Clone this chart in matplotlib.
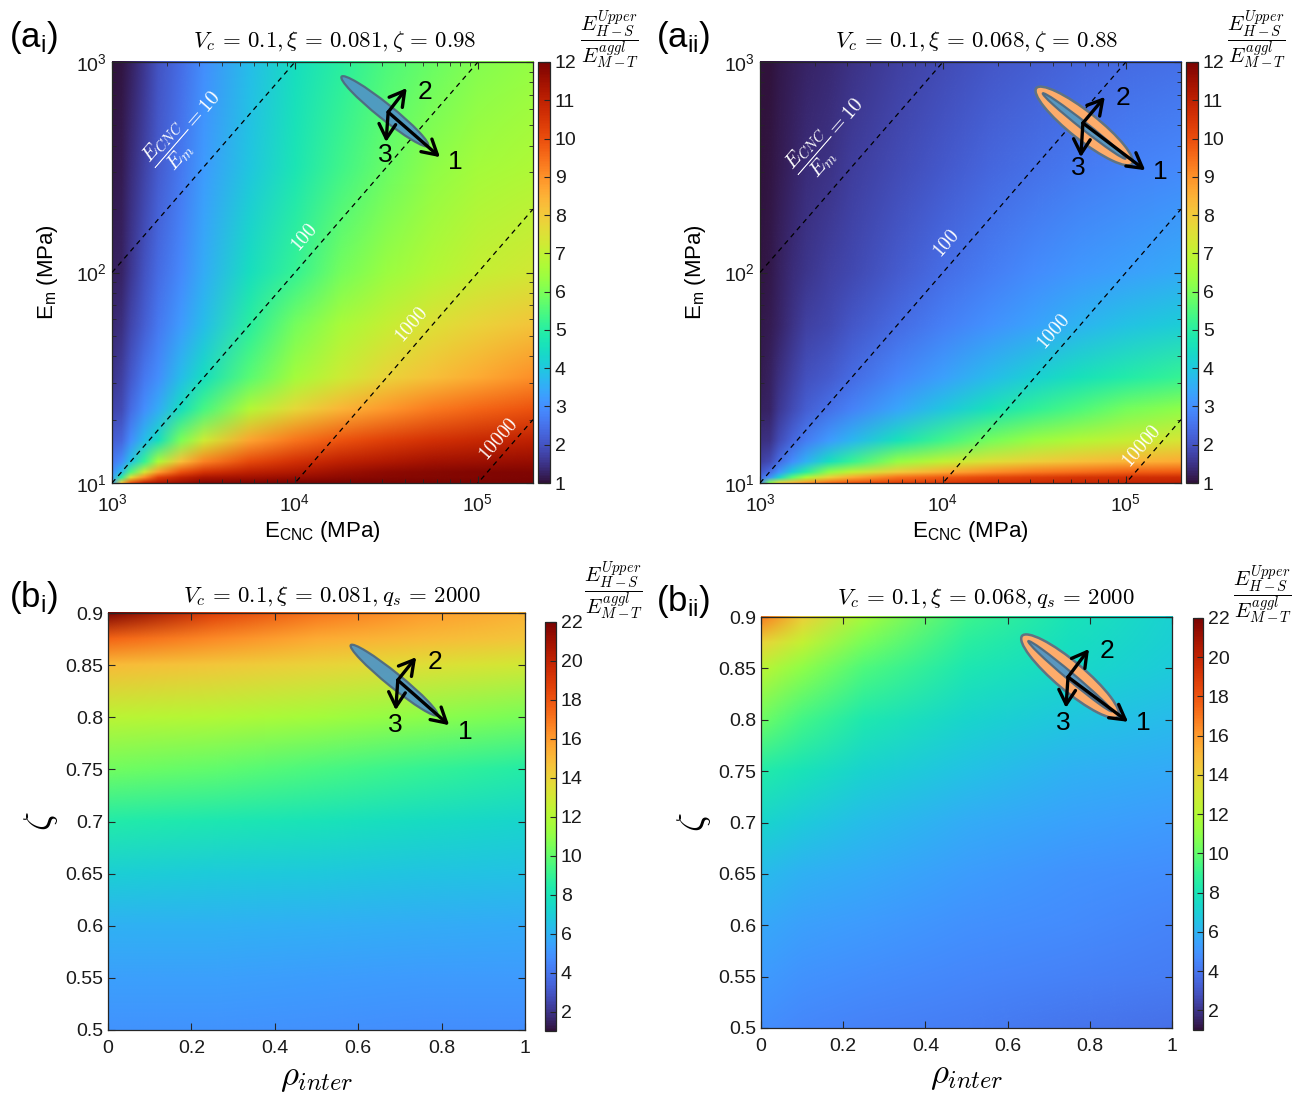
import numpy as np
import matplotlib
matplotlib.use('Agg')
import matplotlib.pyplot as plt
from matplotlib.patches import Ellipse
from matplotlib.image import NonUniformImage
from matplotlib.colors import Normalize
from matplotlib.ticker import FixedLocator

plt.rcParams['font.family'] = ['Liberation Sans', 'DejaVu Sans']
plt.rcParams['mathtext.fontset'] = 'custom'
plt.rcParams['mathtext.rm'] = 'Liberation Sans'
plt.rcParams['mathtext.it'] = 'Liberation Sans:italic'
plt.rcParams['mathtext.bf'] = 'Liberation Sans:bold'

W, H = 1293, 1095

# ---------- data ----------
# (a) panels: log10(E_CNC) columns, log10(E_m) rows (bottom -> top)
ecnc_log = [3.0, 3.05, 3.1, 3.175, 3.25, 3.375, 3.5, 3.75, 4.0, 4.25, 4.5, 4.75, 5.0, 5.301]
em_log = [1.0, 1.025, 1.05, 1.1, 1.2, 1.35, 1.5, 1.75, 2.0, 2.5, 3.0]

ratio_ai = [
    [3.6, 8.0, 9.8, 10.8, 11.2, 11.5, 11.8, 11.9, 11.95, 12, 12, 12, 12, 12],
    [3.3, 5.0, 7.5, 9.0, 10.2, 10.9, 11.3, 11.4, 11.55, 11.7, 11.8, 11.85, 11.9, 11.95],
    [3.0, 3.8, 5.5, 7.3, 8.8, 9.9, 10.5, 11.0, 11.2, 11.5, 11.7, 11.8, 11.9, 11.9],
    [2.6, 3.0, 3.9, 5.2, 6.6, 8.2, 9.2, 10.1, 10.6, 11.0, 11.2, 11.4, 11.5, 11.6],
    [2.2, 2.3, 3.0, 3.8, 4.5, 6.0, 7.2, 8.7, 9.4, 9.9, 10.3, 10.6, 10.8, 11.0],
    [1.8, 1.9, 2.4, 3.0, 3.5, 4.5, 5.4, 6.8, 7.7, 8.4, 8.9, 9.3, 9.6, 9.9],
    [1.55, 1.7, 2.1, 2.6, 3.0, 3.8, 4.5, 5.6, 6.5, 7.2, 7.8, 8.2, 8.6, 9.0],
    [1.35, 1.45, 1.8, 2.2, 2.6, 3.2, 3.8, 5.0, 5.9, 6.6, 7.1, 7.5, 7.8, 8.1],
    [1.25, 1.3, 1.6, 2.0, 2.4, 2.9, 3.5, 4.5, 5.2, 5.9, 6.4, 6.8, 7.1, 7.3],
    [1.1, 1.15, 1.4, 1.75, 2.15, 2.6, 3.2, 4.0, 4.7, 5.3, 5.8, 6.2, 6.5, 6.7],
    [1.0, 1.05, 1.25, 1.6, 2.0, 2.45, 3.0, 3.8, 4.5, 5.0, 5.5, 5.8, 6.1, 6.3],
]
ratio_aii = [
    [2.8, 6.0, 7.5, 8.3, 8.8, 9.4, 9.8, 10.2, 10.4, 10.6, 10.7, 10.8, 10.9, 11.0],
    [2.4, 3.0, 4.2, 5.6, 6.6, 7.8, 8.6, 9.4, 9.8, 10.1, 10.3, 10.5, 10.6, 10.7],
    [2.1, 2.4, 3.1, 4.1, 5.0, 6.2, 7.0, 8.0, 8.6, 9.0, 9.3, 9.5, 9.7, 9.8],
    [1.7, 1.9, 2.4, 3.0, 3.6, 4.5, 5.2, 6.3, 7.0, 7.5, 7.9, 8.2, 8.4, 8.6],
    [1.45, 1.5, 1.9, 2.3, 2.7, 3.2, 3.7, 4.6, 5.3, 5.9, 6.4, 6.8, 7.1, 7.4],
    [1.25, 1.3, 1.6, 1.9, 2.2, 2.5, 2.8, 3.4, 4.0, 4.6, 5.1, 5.5, 5.9, 6.2],
    [1.15, 1.25, 1.45, 1.7, 1.95, 2.15, 2.4, 2.85, 3.3, 3.75, 4.2, 4.6, 4.9, 5.2],
    [1.1, 1.15, 1.3, 1.5, 1.7, 1.85, 2.05, 2.4, 2.75, 3.05, 3.35, 3.65, 3.9, 4.1],
    [1.05, 1.1, 1.25, 1.4, 1.55, 1.7, 1.85, 2.15, 2.45, 2.7, 2.95, 3.15, 3.3, 3.45],
    [1.0, 1.05, 1.15, 1.3, 1.4, 1.5, 1.65, 1.9, 2.1, 2.3, 2.5, 2.65, 2.8, 2.9],
    [1.0, 1.03, 1.1, 1.2, 1.28, 1.38, 1.5, 1.7, 1.9, 2.05, 2.2, 2.3, 2.4, 2.5],
]

# (b) panels: rho_inter columns, zeta rows (bottom -> top)
zeta = [0.5, 0.55, 0.6, 0.65, 0.7, 0.75, 0.8, 0.85, 0.875, 0.9]
rho_bi = [0.0, 0.25, 0.5, 0.75, 1.0]
ratio_bi = [
    [5.0, 4.95, 4.9, 4.85, 4.8],
    [5.4, 5.35, 5.3, 5.25, 5.2],
    [6.0, 5.95, 5.85, 5.8, 5.7],
    [7.0, 6.9, 6.8, 6.65, 6.5],
    [8.4, 8.2, 7.9, 7.6, 7.3],
    [10.3, 10.0, 9.5, 9.0, 8.5],
    [12.3, 12.0, 11.5, 11.0, 10.5],
    [15.0, 14.5, 14.0, 13.5, 13.0],
    [17.5, 16.5, 15.5, 15.0, 14.5],
    [22.0, 18.8, 17.0, 16.0, 15.2],
]
rho_bii = [0.0, 0.1, 0.25, 0.5, 0.75, 1.0]
ratio_bii = [
    [4.8, 4.6, 4.4, 4.2, 4.0, 3.8],
    [5.2, 5.0, 4.8, 4.6, 4.4, 4.2],
    [5.6, 5.4, 5.2, 4.9, 4.7, 4.5],
    [6.3, 6.0, 5.7, 5.3, 5.0, 4.8],
    [7.3, 6.9, 6.4, 5.8, 5.5, 5.2],
    [8.4, 7.9, 7.2, 6.5, 6.0, 5.7],
    [10.2, 9.3, 8.3, 7.3, 6.7, 6.3],
    [12.3, 11.0, 9.6, 8.2, 7.4, 6.9],
    [14.0, 12.5, 10.5, 8.7, 7.7, 7.0],
    [16.8, 14.2, 11.5, 9.2, 7.9, 7.1],
]

# E_CNC / E_m guide lines and their labels (positions in log10 units)
guide_ratios = [10, 100, 1000, 10000]
guide_labels = [r'$\dfrac{E_{CNC}}{E_m} = 10$', '$100$', '$1000$', '$10000$']
guide_pos_ai = [(3.408, 2.669), (4.051, 2.165), (4.638, 1.751), (5.116, 1.204)]
guide_pos_aii = [(3.381, 2.637), (4.02, 2.134), (4.607, 1.714), (5.088, 1.172)]

titles = [r'$V_c\,=\,0.1, \xi\,=\,0.081, \zeta\,=\,0.98$',
          r'$V_c\,=\,0.1, \xi\,=\,0.068, \zeta\,=\,0.88$',
          r'$V_c\,=\,0.1, \xi\,=\,0.081, q_s\,=\,2000$',
          r'$V_c\,=\,0.1, \xi\,=\,0.068, q_s\,=\,2000$']
cbar_label = r'$\dfrac{E^{Upper}_{H-S}}{E^{aggl}_{M-T}}$'

EDGE = '#262626'


def rect(l, t, r, b):
    return [l / W, 1 - b / H, (r - l) / W, (b - t) / H]


def style_axes(ax, xpad):
    for s in ax.spines.values():
        s.set_color(EDGE)
        s.set_linewidth(0.9)
    ax.tick_params(which='both', direction='in', top=True, right=True,
                   colors=EDGE, labelcolor='#1a1a1a', labelsize=14)
    ax.tick_params(which='major', length=5)
    ax.tick_params(which='minor', length=3)
    ax.tick_params(axis='x', which='major', pad=xpad)


def style_cbar(cb, ticks):
    cb.set_ticks(ticks)
    cb.outline.set_edgecolor(EDGE)
    cb.outline.set_linewidth(0.9)
    cb.ax.tick_params(direction='in', length=4, colors=EDGE,
                      labelcolor='#1a1a1a', labelsize=14)


def heat(ax, x, y, z, vmax, extent):
    im = NonUniformImage(ax, interpolation='bilinear', extent=extent,
                         cmap='turbo', norm=Normalize(1, vmax))
    im.set_data(np.array(x), np.array(y), np.array(z))
    ax.add_image(im)
    return im


def draw_icon(ax, c, length, width, angle, origin, tips, labels, ring=None):
    if ring is not None:
        ax.add_patch(Ellipse(c, ring[0], ring[1], angle=angle, transform=ax.transAxes,
                             fc='#fdac6b', ec='#5f7383', lw=1.8, zorder=5))
    ax.add_patch(Ellipse(c, length, width, angle=angle, transform=ax.transAxes,
                         fc='#5096c4', ec='#4f6a80', lw=1.6, alpha=0.95, zorder=6))
    for tip in tips:
        ax.annotate('', xy=tip, xytext=origin, xycoords='axes fraction',
                    arrowprops=dict(arrowstyle='->,head_length=0.7,head_width=0.4',
                                    lw=2.4, color='k', shrinkA=0, shrinkB=0,
                                    mutation_scale=15), zorder=7)
    for txt, p in zip(['1', '2', '3'], labels):
        ax.text(p[0], p[1], txt, transform=ax.transAxes, fontsize=19,
                ha='center', va='center', zorder=8)


fig = plt.figure(figsize=(W / 100, H / 100), dpi=100)

# ---------- (a) panels ----------
a_specs = [
    (rect(112, 62, 533, 483), rect(538, 62, 550, 483), ratio_ai, guide_pos_ai,
     dict(c=(0.648, 0.883), length=0.263, width=0.036, angle=-38.7, origin=(0.656, 0.881),
          tips=[(0.779, 0.774), (0.70, 0.938), (0.651, 0.81)],
          labels=[(0.815, 0.762), (0.743, 0.929), (0.648, 0.779)])),
    (rect(760, 62, 1181, 483), rect(1186, 62, 1198, 483), ratio_aii, guide_pos_aii,
     dict(c=(0.770, 0.848), length=0.25, width=0.017, angle=-38.3, origin=(0.767, 0.855),
          tips=[(0.915, 0.743), (0.819, 0.917), (0.762, 0.774)],
          labels=[(0.95, 0.739), (0.862, 0.914), (0.755, 0.748)],
          ring=(0.29, 0.066))),
]
xmin, xmax = 3.0, np.log10(2e5)
x_minor = [np.log10(k * 10 ** e) for e in (3, 4) for k in range(2, 10)] + [np.log10(2e5)]
y_minor = [np.log10(k * 10 ** e) for e in (1, 2) for k in range(2, 10)]
for i, (r_ax, r_cb, z, gpos, icon) in enumerate(a_specs):
    ax = fig.add_axes(r_ax)
    cax = fig.add_axes(r_cb)
    m = heat(ax, ecnc_log, em_log, z, 12, (xmin, xmax, 1, 3))
    ax.set_xlim(xmin, xmax)
    ax.set_ylim(1, 3)
    ax.set_xticks([3, 4, 5])
    ax.set_xticklabels([r'$10^{3}$', r'$10^{4}$', r'$10^{5}$'])
    ax.set_yticks([1, 2, 3])
    ax.set_yticklabels([r'$10^{1}$', r'$10^{2}$', r'$10^{3}$'])
    ax.xaxis.set_minor_locator(FixedLocator(x_minor))
    ax.yaxis.set_minor_locator(FixedLocator(y_minor))
    style_axes(ax, 7)
    xs = np.array([xmin, xmax])
    p1 = ax.transData.transform((3, 1))
    p2 = ax.transData.transform((4, 2))
    ang = np.degrees(np.arctan2(p2[1] - p1[1], p2[0] - p1[0]))
    for r, lab, pos in zip(guide_ratios, guide_labels, gpos):
        ax.plot(xs, xs - np.log10(r), color='k', lw=0.9, ls=(0, (4, 3.5)), zorder=3)
        ax.text(pos[0], pos[1], lab, color='white', fontsize=15 if r == 10 else 14,
                rotation=ang, ha='center', va='center', rotation_mode='anchor',
                math_fontfamily='cm', zorder=4)
    draw_icon(ax, **icon)
    ax.set_xlabel(r'E$_{\mathrm{CNC}}$ (MPa)', fontsize=16, labelpad=3)
    ax.set_ylabel(r'E$_{\mathrm{m}}$ (MPa)', fontsize=16, labelpad=12)
    cb = fig.colorbar(m, cax=cax)
    style_cbar(cb, range(1, 13))

# ---------- (b) panels ----------
b_specs = [
    (rect(108, 613, 525, 1030), rect(545, 622, 556, 1031), rho_bi, ratio_bi,
     dict(c=(0.686, 0.839), length=0.267, width=0.034, angle=-39, origin=(0.695, 0.839),
          tips=[(0.818, 0.731), (0.739, 0.894), (0.69, 0.767)],
          labels=[(0.856, 0.715), (0.784, 0.882), (0.688, 0.731)])),
    (rect(761, 617, 1172, 1028), rect(1193, 618, 1203, 1030), rho_bii, ratio_bii,
     dict(c=(0.752, 0.856), length=0.265, width=0.018, angle=-40, origin=(0.747, 0.854),
          tips=[(0.893, 0.745), (0.798, 0.922), (0.742, 0.779)],
          labels=[(0.93, 0.742), (0.842, 0.917), (0.735, 0.742)],
          ring=(0.305, 0.07))),
]
for i, (r_ax, r_cb, rho, z, icon) in enumerate(b_specs):
    ax = fig.add_axes(r_ax)
    cax = fig.add_axes(r_cb)
    m = heat(ax, rho, zeta, z, 22, (0, 1, 0.5, 0.9))
    ax.set_xlim(0, 1)
    ax.set_ylim(0.5, 0.9)
    ax.set_xticks([0, 0.2, 0.4, 0.6, 0.8, 1])
    ax.set_xticklabels(['0', '0.2', '0.4', '0.6', '0.8', '1'])
    ax.set_yticks(np.arange(0.5, 0.901, 0.05))
    ax.set_yticklabels(['0.5', '0.55', '0.6', '0.65', '0.7', '0.75', '0.8', '0.85', '0.9'])
    style_axes(ax, 7)
    draw_icon(ax, **icon)
    ax.set_xlabel(r'$\rho_{inter}$', fontsize=25, math_fontfamily='cm', labelpad=3)
    ax.set_ylabel(r'$\zeta$', fontsize=27, math_fontfamily='cm', labelpad=4)
    cb = fig.colorbar(m, cax=cax)
    style_cbar(cb, range(2, 23, 2))

# ---------- titles, colourbar labels, panel tags ----------
title_pos = [(335, 42), (977, 42), (332, 596), (986, 598)]
cbar_lab_pos = [(610, 40), (1257, 40), (614, 591), (1263, 595)]
tags = [r'(a$_\mathrm{i}$)', r'(a$_\mathrm{ii}$)', r'(b$_\mathrm{i}$)', r'(b$_\mathrm{ii}$)']
tag_pos = [(9, 38), (656, 38), (9, 598), (656, 601)]
for t, p in zip(titles, title_pos):
    fig.text(p[0] / W, 1 - p[1] / H, t, fontsize=16.5, ha='center', va='center',
             math_fontfamily='cm')
for p in cbar_lab_pos:
    fig.text(p[0] / W, 1 - p[1] / H, cbar_label, fontsize=15, ha='center', va='center',
             math_fontfamily='cm')
for t, p in zip(tags, tag_pos):
    fig.text(p[0] / W, 1 - p[1] / H, t, fontsize=25, ha='left', va='center')

fig.savefig('out.png', dpi=100)
